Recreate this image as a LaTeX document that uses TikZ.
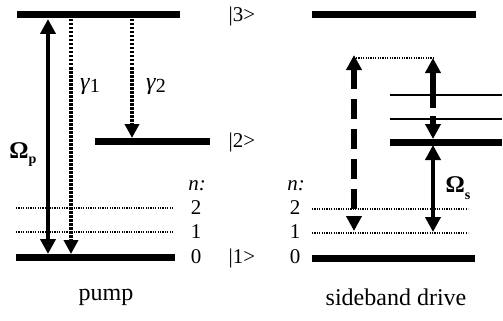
\documentclass[tikz,border=0pt]{standalone}
\usepackage{fontspec}
\setmainfont{Liberation Serif}
\usetikzlibrary{arrows.meta}
\begin{document}
\begin{tikzpicture}[x=1pt,y=-1pt,
  level/.style={line width=7pt},
  sublevel/.style={line width=1.2pt,dash pattern=on 1.2pt off 1.2pt},
  pumparrow/.style={line width=4.5pt,{Triangle[width=15pt,length=15pt]}-{Triangle[width=15pt,length=15pt]}},
  decayarrow/.style={line width=4pt,dash pattern=on 2.5pt off 1.5pt,-{Triangle[width=14pt,length=14pt]}},
  sidearrow/.style={line width=6pt,dash pattern=on 20pt off 10pt,{Triangle[width=15pt,length=15pt]}-{Triangle[width=15pt,length=15pt]}},
  solidarrow/.style={line width=4.5pt,{Triangle[width=15pt,length=15pt]}-{Triangle[width=15pt,length=15pt]}},
  lbl/.style={font=\fontsize{21}{23}\selectfont,inner sep=0pt},
  captext/.style={font=\fontsize{24}{26}\selectfont,inner sep=0pt}]
\useasboundingbox (0,0) rectangle (503,321);
% left levels
\coordinate (L3a) at (17,15);  \coordinate (L3b) at (180,15);
\coordinate (L2a) at (95,141); \coordinate (L2b) at (210,141);
\coordinate (L1a) at (16,257); \coordinate (L1b) at (175,257);
\coordinate (Ln2a) at (16,208); \coordinate (Ln2b) at (173,208);
\coordinate (Ln1a) at (16,232); \coordinate (Ln1b) at (173,232);
\draw[level] (L3a) -- (L3b);
\draw[level] (L2a) -- (L2b);
\draw[level] (L1a) -- (L1b);
\draw[sublevel] (Ln2a) -- (Ln2b);
\draw[sublevel] (Ln1a) -- (Ln1b);
% right levels
\coordinate (R3a) at (312,15);  \coordinate (R3b) at (476,15);
\coordinate (R2a) at (390,142); \coordinate (R2b) at (502,142);
\coordinate (Rm1a) at (390,95); \coordinate (Rm1b) at (502,95);
\coordinate (Rm2a) at (390,119); \coordinate (Rm2b) at (502,119);
\coordinate (R1a) at (312,258); \coordinate (R1b) at (475,258);
\coordinate (Rn2a) at (312,209); \coordinate (Rn2b) at (468,209);
\coordinate (Rn1a) at (312,233); \coordinate (Rn1b) at (468,233);
\draw[level] (R3a) -- (R3b);
\draw[level] (R2a) -- (R2b);
\draw[level] (R1a) -- (R1b);
\draw[line width=1.2pt] (Rm1a) -- (Rm1b);
\draw[line width=1.2pt] (Rm2a) -- (Rm2b);
\draw[sublevel] (Rn2a) -- (Rn2b);
\draw[sublevel] (Rn1a) -- (Rn1b);
% left arrows
\coordinate (Pt) at (48,19); \coordinate (Pb) at (48,254);
\draw[pumparrow] (Pt) -- (Pb);
\coordinate (G1t) at (71,19); \coordinate (G1b) at (71,254);
\draw[decayarrow] (G1t) -- (G1b);
\coordinate (G2t) at (132,19); \coordinate (G2b) at (132,138);
\draw[decayarrow] (G2t) -- (G2b);
\node[captext] (Op) at (23,155) {\textbf{Ω}\raisebox{-0.45ex}{\fontsize{14}{15}\selectfont\bfseries p}};
\node[captext] (g1) at (90,87) {\textit{γ}\raisebox{-0.2ex}{\fontsize{20}{20}\selectfont 1}};
\node[captext] (g2) at (156,87) {\textit{γ}\raisebox{-0.2ex}{\fontsize{20}{20}\selectfont 2}};
% right arrows
\coordinate (S1t) at (354,55); \coordinate (S1b) at (354,231);
\draw[sidearrow] (S1t) -- (S1b);
\coordinate (S2t) at (433,58); \coordinate (S2b) at (433,139);
\draw[sidearrow,dash pattern=on 36pt off 8pt on 30pt] (S2t) -- (S2b);
\coordinate (S3t) at (433,145); \coordinate (S3b) at (433,232);
\draw[solidarrow] (S3t) -- (S3b);
\coordinate (Hl) at (356,58); \coordinate (Hr) at (433,58);
\draw[sublevel] (Hl) -- (Hr);
\node[captext] (Os) at (458,188) {\textbf{Ω}\raisebox{-0.6ex}{\fontsize{14}{15}\selectfont\bfseries s}};
% labels
\node[lbl] (k3) at (242,16) {|3>};
\node[lbl] (k2) at (242,142) {|2>};
\node[lbl] (k1) at (242,258) {|1>};
\node[lbl] (nl) at (197,186) {\itshape n:};
\node[lbl] (nl2) at (196,208) {2};
\node[lbl] (nl1) at (196,232) {1};
\node[lbl] (nl0) at (196,257) {0};
\node[lbl] (nr) at (296,186) {\itshape n:};
\node[lbl] (nr2) at (295,208) {2};
\node[lbl] (nr1) at (295,232) {1};
\node[lbl] (nr0) at (295,257) {0};
\node[captext] (pump) at (106,297) {pump};
\node[captext] (sb) at (396,297) {sideband drive};
\end{tikzpicture}
\end{document}
